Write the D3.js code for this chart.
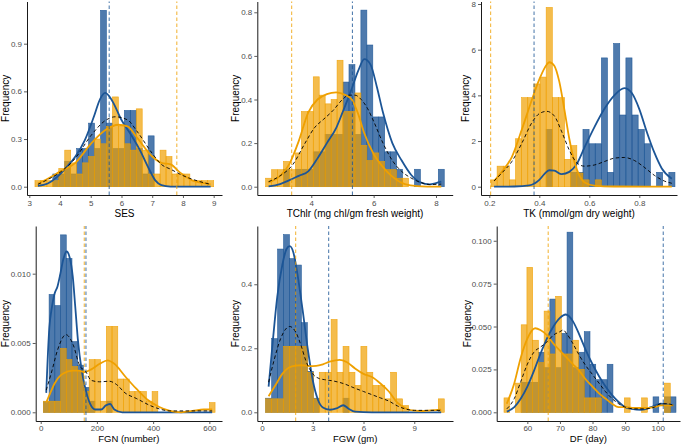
<!DOCTYPE html>
<html>
<head>
<meta charset="utf-8">
<script src="https://cdn.jsdelivr.net/npm/d3@7"></script>
<style>
  body { margin: 0; background: #fff; }
  text { font-family: "Liberation Sans", Arial, sans-serif; }
</style>
</head>
<body>
<div id="vis"></div>
<script>
// ---- data: histogram densities per bin (30 bins), density curves, reference lines ----

// SES
const sesBinStart = 3.184, sesBinWidth = 0.1939;
const sesBlue   = [0,0,0,0.08,0.08,0.16,0.08,0.24,0.24,0.40,0.24,1.11,0.40,0.24,0.24,0.48,0.48,0.24,0.08,0.32,0,0,0,0,0,0,0,0,0,0];
const sesOrange = [0.038,0.038,0.038,0.038,0.115,0.23,0.15,0.08,0.15,0.19,0.30,0.27,0.38,0.565,0.38,0.27,0.23,0.49,0.23,0.08,0.08,0.23,0.19,0.08,0.08,0.08,0.038,0.038,0.038,0.038];
const sesBlueCurve   = [[3.28,0.005],[3.6,0.02],[3.9,0.06],[4.2,0.12],[4.5,0.19],[4.8,0.29],[5.1,0.44],[5.3,0.55],[5.47,0.59],[5.7,0.54],[6.0,0.42],[6.3,0.33],[6.6,0.23],[6.9,0.11],[7.1,0.04],[7.3,0.01],[7.6,0.001],[8.0,0],[8.9,0]];
const sesOrangeCurve = [[3.28,0.02],[3.6,0.05],[4.0,0.095],[4.5,0.15],[5.0,0.27],[5.5,0.36],[5.9,0.39],[6.2,0.38],[6.5,0.31],[7.0,0.19],[7.3,0.15],[7.6,0.14],[7.9,0.09],[8.3,0.04],[8.6,0.025],[8.9,0.015]];
const sesAllCurve    = [[3.28,0.015],[3.6,0.045],[4.0,0.09],[4.5,0.18],[5.0,0.32],[5.5,0.42],[5.8,0.44],[6.2,0.42],[6.5,0.35],[7.0,0.21],[7.3,0.14],[7.6,0.11],[8.0,0.07],[8.5,0.035],[8.9,0.015]];
const sesRef = { blue: 5.6, orange: 7.8 };

// TChlr
const tchlBinStart = 2.535, tchlBinWidth = 0.191;
const tchlBlue   = [0,0,0,0.08,0,0.08,0.08,0.08,0.16,0.16,0.24,0.24,0.24,0.48,0.56,0.24,0.81,0.65,0.32,0.32,0.16,0.16,0.08,0,0,0.08,0,0,0,0.08];
const tchlOrange = [0.039,0.078,0.078,0.116,0.078,0.155,0.345,0.345,0.504,0.42,0.38,0.40,0.58,0.345,0.345,0.43,0.19,0.12,0.155,0.116,0.078,0.078,0.039,0.039,0,0,0,0,0,0];
const tchlBlueCurve   = [[2.63,0.002],[3.0,0.012],[3.3,0.03],[3.6,0.05],[3.9,0.07],[4.2,0.13],[4.5,0.2],[4.8,0.27],[5.0,0.34],[5.3,0.45],[5.5,0.53],[5.7,0.585],[5.9,0.56],[6.1,0.46],[6.3,0.34],[6.6,0.2],[6.9,0.12],[7.2,0.055],[7.5,0.02],[7.8,0.011],[8.0,0.017],[8.17,0.023]];
const tchlOrangeCurve = [[2.63,0.02],[3.0,0.05],[3.3,0.105],[3.6,0.21],[3.9,0.34],[4.2,0.40],[4.5,0.425],[4.8,0.433],[5.1,0.42],[5.3,0.40],[5.5,0.335],[5.7,0.245],[6.0,0.15],[6.3,0.09],[6.6,0.046],[7.0,0.012],[7.4,0.003],[8.17,0]];
const tchlAllCurve    = [[2.63,0.023],[3.0,0.05],[3.4,0.10],[3.8,0.20],[4.1,0.27],[4.4,0.31],[4.7,0.35],[5.0,0.40],[5.2,0.42],[5.4,0.42],[5.6,0.40],[5.8,0.36],[6.0,0.30],[6.3,0.20],[6.6,0.12],[6.9,0.07],[7.2,0.04],[7.5,0.02],[7.8,0.01],[8.17,0.012]];
const tchlRef = { blue: 5.32, orange: 3.37 };

// TK
const tkBinStart = 0.2067, tkBinWidth = 0.02453;
const tkBlue   = [0,0,0,0,0,0,0,0,0,2.51,0,0,0,0.63,0.63,2.51,1.88,1.88,5.64,0.63,6.27,3.14,5.64,3.14,2.51,1.88,0,0.63,0,0.63];
const tkOrange = [0.3,0.9,0.9,0.3,2.1,3.9,3.9,4.5,4.8,7.85,3.9,3.9,1.2,1.8,0.6,0.3,0,0.3,0,0,0,0,0,0,0,0,0,0,0,0];
const tkBlueCurve   = [[0.219,0],[0.3,0.01],[0.36,0.06],[0.40,0.3],[0.42,0.55],[0.44,0.72],[0.46,0.70],[0.49,0.55],[0.52,0.65],[0.55,1.0],[0.58,1.7],[0.62,2.6],[0.66,3.4],[0.70,4.0],[0.74,4.32],[0.77,4.1],[0.80,3.4],[0.83,2.4],[0.86,1.5],[0.89,0.8],[0.93,0.35]];
const tkOrangeCurve = [[0.219,0.25],[0.25,0.65],[0.29,1.3],[0.33,2.5],[0.37,3.8],[0.40,4.7],[0.43,5.35],[0.44,5.45],[0.46,5.3],[0.48,4.6],[0.50,3.4],[0.52,2.1],[0.54,1.1],[0.56,0.5],[0.58,0.2],[0.62,0.05],[0.70,0.01],[0.93,0]];
const tkAllCurve    = [[0.219,0.25],[0.25,0.6],[0.29,1.1],[0.33,1.9],[0.37,2.8],[0.40,3.2],[0.43,3.3],[0.46,3.1],[0.49,2.4],[0.52,1.6],[0.55,1.05],[0.58,0.9],[0.62,0.95],[0.66,1.1],[0.70,1.25],[0.74,1.28],[0.78,1.15],[0.82,0.85],[0.86,0.5],[0.90,0.25],[0.93,0.15]];
const tkRef = { blue: 0.379, orange: 0.2053 };

// FGN
const fgnBinStart = 9.5, fgnBinWidth = 20.36;
const fgnBlue   = [0.00076,0.0085,0.0077,0.0128,0.0111,0.0051,0.0034,0.0018,0.0008,0,0,0.0008,0,0,0,0,0,0,0,0,0,0,0,0,0,0,0,0,0,0];
const fgnOrange = [0.0008,0.0008,0.0008,0.0046,0.0038,0.0033,0.0030,0.0015,0.0038,0.0038,0.0008,0.0062,0.0062,0.0024,0.0024,0.0015,0.0015,0.0015,0.0008,0.0015,0,0,0,0,0,0,0,0,0,0.0007];
const fgnBlueCurve   = [[19.7,0.0014],[30.7,0.0061],[40,0.0076],[48.5,0.0085],[60,0.0091],[70,0.0100],[80,0.0110],[92,0.0116],[104,0.0111],[114,0.0098],[123,0.0076],[132,0.0053],[146,0.0030],[158,0.0018],[176,0.0006],[194,0.0002],[215,0.0002],[232,0.0005],[247,0.0006],[262,0.0002],[290,0],[610,0]];
const fgnOrangeCurve = [[19.7,0.0007],[30,0.0012],[50,0.0021],[80,0.0028],[114,0.0030],[135,0.0030],[155,0.0029],[180,0.0031],[210,0.0035],[238,0.00375],[262,0.0035],[300,0.0026],[340,0.0017],[380,0.0009],[420,0.0004],[460,0.0001],[500,0],[540,0.0001],[580,0.0002],[610,0.0002]];
const fgnAllCurve    = [[19.7,0.0016],[40,0.0030],[60,0.0045],[90,0.0056],[115,0.0049],[140,0.0033],[158,0.0030],[180,0.0023],[210,0.0022],[244,0.00224],[270,0.0020],[300,0.0014],[340,0.0010],[400,0.0004],[460,0.0001],[520,0.0001],[580,0.0001],[610,0.0001]];
const fgnRef = { blue: 161, orange: 155 };

// FGW
const fgwBinStart = 0.2166, fgwBinWidth = 0.3519;
const fgwBlue   = [0.044,0.23,0.51,0.555,0.48,0.46,0.28,0.128,0.044,0,0,0,0,0.044,0,0,0,0,0,0,0,0,0,0,0,0,0,0,0,0];
const fgwOrange = [0.042,0.042,0.042,0.206,0.206,0.206,0.206,0.125,0.042,0.125,0.125,0.29,0.125,0.206,0.125,0.084,0.206,0.125,0.084,0.084,0.042,0.125,0.042,0.021,0,0,0,0,0,0.042];
const fgwBlueCurve   = [[0.39,0.08],[0.6,0.2],[0.9,0.36],[1.2,0.46],[1.45,0.51],[1.64,0.519],[1.85,0.50],[2.1,0.43],[2.4,0.32],[2.7,0.2],[3.0,0.1],[3.3,0.04],[3.6,0.015],[4.0,0.008],[4.4,0.012],[4.8,0.022],[5.1,0.012],[5.5,0.002],[6.5,0],[10.59,0]];
const fgwOrangeCurve = [[0.39,0.05],[0.8,0.085],[1.2,0.12],[1.6,0.14],[2.0,0.146],[2.32,0.147],[2.8,0.144],[3.2,0.145],[3.6,0.15],[4.0,0.158],[4.59,0.164],[5.0,0.157],[5.5,0.137],[6.0,0.12],[6.5,0.11],[7.0,0.09],[7.5,0.065],[8.0,0.03],[8.5,0.012],[9.0,0.005],[9.5,0.004],[10.0,0.006],[10.59,0.008]];
const fgwAllCurve    = [[0.39,0.094],[0.7,0.16],[1.1,0.23],[1.4,0.26],[1.64,0.268],[2.0,0.25],[2.3,0.21],[2.6,0.16],[3.0,0.12],[3.4,0.105],[3.7,0.102],[4.2,0.098],[4.8,0.09],[5.5,0.075],[6.0,0.065],[6.5,0.055],[7.0,0.045],[7.5,0.035],[8.0,0.02],[8.5,0.01],[9.0,0.006],[10.59,0.006]];
const fgwRef = { blue: 3.94, orange: 1.99 };

// DF
const dfBinStart = 52.84, dfBinWidth = 1.759;
const dfBlue   = [0,0,0,0.0175,0.0175,0.0175,0.035,0.026,0.066,0.026,0.046,0.105,0.026,0.035,0.047,0.028,0.019,0.019,0.028,0,0,0,0,0,0,0,0.009,0,0.009,0.009];
const dfOrange = [0.0084,0,0.017,0.051,0.0845,0.042,0.029,0.059,0.034,0.0676,0.034,0.034,0.042,0.025,0.0084,0.0084,0.0084,0,0,0,0,0.0084,0,0,0.0084,0,0,0,0.017,0];
const dfBlueCurve   = [[53.7,0.0004],[56,0.003],[58,0.008],[60,0.015],[62,0.024],[64,0.034],[66,0.043],[68,0.050],[70,0.055],[71.8,0.057],[74,0.053],[76,0.045],[78,0.036],[80,0.028],[82,0.021],[84,0.015],[86,0.010],[88,0.006],[90,0.003],[92,0.002],[95,0.0015],[98,0.003],[101,0.005],[103,0.0045],[104.8,0.004]];
const dfOrangeCurve = [[53.7,0.005],[56,0.017],[58,0.032],[60,0.043],[62.4,0.049],[64,0.048],[66,0.045],[68,0.040],[70,0.036],[72,0.032],[74,0.028],[76,0.024],[78,0.019],[80,0.015],[82,0.011],[84,0.008],[86,0.005],[88,0.003],[90,0.003],[93,0.0025],[96,0.0025],[99,0.003],[101,0.004],[103,0.004],[104.8,0.004]];
const dfAllCurve    = [[53.7,0.002],[56,0.008],[58,0.018],[60,0.028],[62,0.035],[64,0.038],[66,0.041],[68,0.045],[70,0.047],[71,0.048],[72,0.046],[74,0.040],[76,0.033],[78,0.027],[80,0.022],[82,0.017],[84,0.012],[86,0.008],[88,0.005],[90,0.003],[93,0.002],[96,0.002],[99,0.003],[101,0.005],[103,0.005],[104.8,0.004]];
const dfRef = { blue: 101.7, orange: 66.4 };

// ---- layout ----
const width = 685, height = 444;
const blue = "#1c5596", orange = "#efa000";

const panels = [
  { title: "SES", binStart: sesBinStart, binWidth: sesBinWidth, blue: sesBlue, orange: sesOrange,
    curves: [sesBlueCurve, sesOrangeCurve, sesAllCurve], ref: sesRef,
    xDomain: [2.925, 9.271], xRange: [27, 222], yDomain: [-0.0522, 1.1655], yRange: [195, 1.5],
    xTicks: [3,4,5,6,7,8,9], xFmt: d3.format("d"), yTicks: [0,0.3,0.6,0.9], yFmt: d3.format(".1f"), ylabX: 9, titleDy: 21.5, pad: 2 },
  { title: "TChlr (mg chl/gm fresh weight)", binStart: tchlBinStart, binWidth: tchlBinWidth, blue: tchlBlue, orange: tchlOrange,
    curves: [tchlBlueCurve, tchlOrangeCurve, tchlAllCurve], ref: tchlRef,
    xDomain: [2.268, 8.536], xRange: [257.3, 452.7], yDomain: [-0.038, 0.8495], yRange: [195, 1.5],
    xTicks: [4,6,8], xFmt: d3.format("d"), yTicks: [0,0.2,0.4,0.6,0.8], yFmt: d3.format(".1f"), ylabX: 239, titleDy: 21.5, pad: 2 },
  { title: "TK (mmol/gm dry weight)", binStart: tkBinStart, binWidth: tkBinWidth, blue: tkBlue, orange: tkOrange,
    curves: [tkBlueCurve, tkOrangeCurve, tkAllCurve], ref: tkRef,
    xDomain: [0.1668, 0.9508], xRange: [481, 677], yDomain: [-0.363, 8.11], yRange: [195, 1.5],
    xTicks: [0.2,0.4,0.6,0.8], xFmt: d3.format(".1f"), yTicks: [0,2,4,6,8], yFmt: d3.format("d"), ylabX: 469, titleDy: 21.5, pad: 2 },
  { title: "FGN (number)", binStart: fgnBinStart, binWidth: fgnBinWidth, blue: fgnBlue, orange: fgnOrange,
    curves: [fgnBlueCurve, fgnOrangeCurve, fgnAllCurve], ref: fgnRef,
    xDomain: [-17.8, 645], xRange: [35.7, 222], yDomain: [-0.000628, 0.01344], yRange: [421, 226],
    xTicks: [0,200,400,600], xFmt: d3.format("d"), yTicks: [0,0.005,0.010], yFmt: d3.format(".3f"), ylabX: 9, titleDy: 20.8, pad: 1 },
  { title: "FGW (gm)", binStart: fgwBinStart, binWidth: fgwBinWidth, blue: fgwBlue, orange: fgwOrange,
    curves: [fgwBlueCurve, fgwOrangeCurve, fgwAllCurve], ref: fgwRef,
    xDomain: [-0.278, 11.29], xRange: [257.3, 453], yDomain: [-0.0272, 0.582], yRange: [421, 226],
    xTicks: [0,3,6,9], xFmt: d3.format("d"), yTicks: [0,0.2,0.4], yFmt: d3.format(".1f"), ylabX: 239, titleDy: 20.8, pad: 1 },
  { title: "DF (day)", binStart: dfBinStart, binWidth: dfBinWidth, blue: dfBlue, orange: dfOrange,
    curves: [dfBlueCurve, dfOrangeCurve, dfAllCurve], ref: dfRef,
    xDomain: [50.6, 106.84], xRange: [496.7, 680], yDomain: [-0.00507, 0.1086], yRange: [421, 226],
    xTicks: [60,70,80,90,100], xFmt: d3.format("d"), yTicks: [0,0.025,0.05,0.075,0.1], yFmt: d3.format(".3f"), ylabX: 471, titleDy: 20.8, pad: 1 }
];

const svg = d3.create("svg").attr("width", width).attr("height", height);

function drawPanel(p) {
  const x = d3.scaleLinear().domain(p.xDomain).range(p.xRange);
  const y = d3.scaleLinear().domain(p.yDomain).range(p.yRange);
  const g = svg.append("g");

  const bar = (vals, color, op) => g.append("g").selectAll("rect")
    .data(vals.map((v, i) => ({ x0: p.binStart + i * p.binWidth, x1: p.binStart + (i + 1) * p.binWidth, v })))
    .join("rect")
    .attr("x", d => x(d.x0)).attr("width", d => x(d.x1) - x(d.x0))
    .attr("y", d => y(d.v)).attr("height", d => y(0) - y(d.v))
    .attr("fill", color).attr("fill-opacity", op)
    .attr("stroke", color).attr("stroke-width", 0.6).attr("stroke-opacity", 0.9);

  bar(p.blue, blue, 0.78);
  bar(p.orange, orange, 0.7);

  const line = d3.line().x(d => x(d[0])).y(d => y(d[1])).curve(d3.curveMonotoneX);
  g.append("path").attr("d", line(p.curves[0])).attr("fill", "none").attr("stroke", blue).attr("stroke-width", 1.8);
  g.append("path").attr("d", line(p.curves[1])).attr("fill", "none").attr("stroke", orange).attr("stroke-width", 1.8);
  g.append("path").attr("d", line(p.curves[2])).attr("fill", "none").attr("stroke", "#000")
    .attr("stroke-width", 0.9).attr("stroke-dasharray", "3.5,2.5");

  [["orange", orange], ["blue", blue]].forEach(([k, c]) => {
    g.append("line")
      .attr("x1", x(p.ref[k])).attr("x2", x(p.ref[k]))
      .attr("y1", p.yRange[0]).attr("y2", p.yRange[1])
      .attr("stroke", c).attr("stroke-opacity", 0.75).attr("stroke-width", 1.1)
      .attr("stroke-dasharray", "3.5,2.5");
  });

  // axes
  const xa = g.append("g").attr("transform", `translate(0,${p.yRange[0]})`)
    .call(d3.axisBottom(x).tickValues(p.xTicks).tickFormat(p.xFmt).tickSize(3).tickSizeOuter(0).tickPadding(p.pad));
  const ya = g.append("g").attr("transform", `translate(${p.xRange[0]},0)`)
    .call(d3.axisLeft(y).tickValues(p.yTicks).tickFormat(p.yFmt).tickSize(3).tickSizeOuter(0).tickPadding(2));
  [xa, ya].forEach(a => {
    a.select(".domain").attr("stroke", "#000").attr("stroke-width", 0.9);
    a.selectAll(".tick line").attr("stroke", "#333").attr("stroke-width", 0.8);
    a.selectAll(".tick text").attr("fill", "#4d4d4d").style("font-size", "8px").style("font-family", "Liberation Sans, Arial, sans-serif");
  });

  // titles
  g.append("text").text(p.title)
    .attr("x", (p.xRange[0] + p.xRange[1]) / 2).attr("y", p.yRange[0] + p.titleDy)
    .attr("text-anchor", "middle").style("font-size", p.pad === 1 ? "9.5px" : "10px").attr("fill", "#000");
  g.append("text").text("Frequency")
    .attr("transform", `translate(${p.ylabX},${(p.yRange[0] + p.yRange[1]) / 2}) rotate(-90)`)
    .attr("text-anchor", "middle").style("font-size", "10px").attr("fill", "#000");
}

panels.forEach(drawPanel);

document.getElementById("vis").appendChild(svg.node());
</script>
</body>
</html>
